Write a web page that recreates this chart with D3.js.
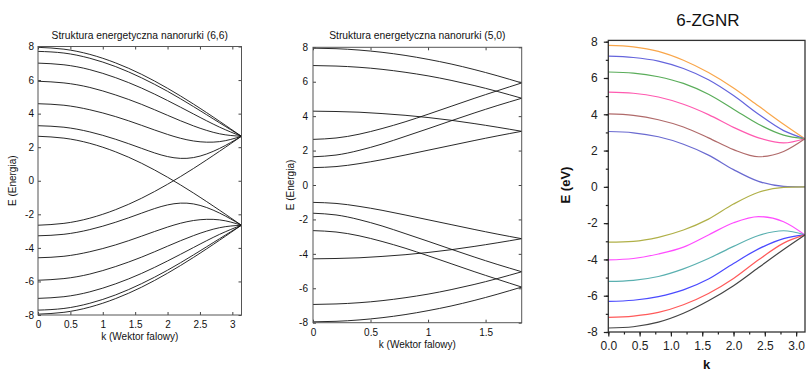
<!DOCTYPE html>
<html>
<head>
<meta charset="utf-8">
<script src="https://cdn.jsdelivr.net/npm/d3@7"></script>
<style>
  body { margin: 0; background: #fff; }
  svg { display: block; }
</style>
</head>
<body>
<div id="chart"></div>
<script>
// ---------- data ----------

// (6,6) armchair tube: wave vector samples and band energies
var kArm = [0, 0.4, 0.8, 1.2, 1.6, 2.0, 2.4, 2.8, 3.14];
var armUpper = [
  [7.95, 7.84, 7.53, 7.02, 6.34, 5.51, 4.57, 3.55, 2.65],
  [7.71, 7.61, 7.30, 6.80, 6.13, 5.33, 4.42, 3.46, 2.65],
  [7.01, 6.91, 6.62, 6.14, 5.52, 4.78, 3.98, 3.20, 2.65],
  [5.93, 5.83, 5.56, 5.11, 4.55, 3.90, 3.27, 2.80, 2.65],
  [4.59, 4.50, 4.23, 3.82, 3.30, 2.76, 2.37, 2.33, 2.65],
  [3.28, 3.19, 2.91, 2.47, 1.93, 1.44, 1.38, 1.92, 2.65],
  [2.65, 2.54, 2.23, 1.72, 1.04, 0.21, -0.73, -1.75, -2.65]
];
var armLower = [
  [-7.95, -7.84, -7.53, -7.02, -6.34, -5.51, -4.57, -3.55, -2.65],
  [-7.71, -7.61, -7.30, -6.80, -6.13, -5.33, -4.42, -3.46, -2.65],
  [-7.01, -6.91, -6.62, -6.14, -5.52, -4.78, -3.98, -3.20, -2.65],
  [-5.93, -5.83, -5.56, -5.11, -4.55, -3.90, -3.27, -2.80, -2.65],
  [-4.59, -4.50, -4.23, -3.82, -3.30, -2.76, -2.37, -2.33, -2.65],
  [-3.28, -3.19, -2.91, -2.47, -1.93, -1.44, -1.38, -1.92, -2.65],
  [-2.65, -2.54, -2.23, -1.72, -1.04, -0.21, 0.73, 1.75, 2.65]
];

// (5,0) zigzag tube
var kZig = [0, 0.2, 0.4, 0.6, 0.8, 1.0, 1.2, 1.4, 1.6, 1.814];
var zigUpper = [
  [7.95, 7.92, 7.84, 7.71, 7.53, 7.30, 7.03, 6.71, 6.35, 5.93],
  [6.94, 6.91, 6.84, 6.72, 6.55, 6.34, 6.08, 5.78, 5.44, 5.04],
  [4.29, 4.27, 4.23, 4.15, 4.05, 3.92, 3.76, 3.57, 3.36, 3.12],
  [1.01, 1.07, 1.24, 1.47, 1.74, 2.02, 2.30, 2.58, 2.85, 3.12],
  [1.64, 1.74, 2.01, 2.38, 2.82, 3.27, 3.73, 4.18, 4.61, 5.04],
  [2.65, 2.73, 2.95, 3.28, 3.67, 4.11, 4.57, 5.03, 5.47, 5.93]
];
var zigLower = [
  [-7.95, -7.92, -7.84, -7.71, -7.53, -7.30, -7.03, -6.71, -6.35, -5.93],
  [-6.94, -6.91, -6.84, -6.72, -6.55, -6.34, -6.08, -5.78, -5.44, -5.04],
  [-4.29, -4.27, -4.23, -4.15, -4.05, -3.92, -3.76, -3.57, -3.36, -3.12],
  [-1.01, -1.07, -1.24, -1.47, -1.74, -2.02, -2.30, -2.58, -2.85, -3.12],
  [-1.64, -1.74, -2.01, -2.38, -2.82, -3.27, -3.73, -4.18, -4.61, -5.04],
  [-2.65, -2.73, -2.95, -3.28, -3.67, -4.11, -4.57, -5.03, -5.47, -5.93]
];

// 6-ZGNR ribbon
var kRib = [0, 0.4, 0.8, 1.2, 1.6, 2.0, 2.4, 2.8, 3.14];
var ribUpper = [
  [7.80, 7.72, 7.47, 6.98, 6.30, 5.45, 4.45, 3.45, 2.65],
  [7.20, 7.13, 6.93, 6.52, 5.90, 5.03, 4.00, 3.10, 2.65],
  [6.33, 6.27, 6.07, 5.70, 5.10, 4.28, 3.45, 2.85, 2.65],
  [5.22, 5.16, 4.95, 4.55, 3.98, 3.28, 2.70, 2.42, 2.65],
  [4.02, 3.94, 3.70, 3.30, 2.70, 2.05, 1.66, 1.95, 2.65],
  [3.05, 2.98, 2.76, 2.35, 1.75, 0.95, 0.30, 0.03, 0.00]
];
var ribLower = [
  [-3.05, -3.00, -2.78, -2.38, -1.78, -0.95, -0.30, -0.03, 0.00],
  [-4.03, -3.95, -3.70, -3.32, -2.65, -1.98, -1.64, -1.92, -2.65],
  [-5.21, -5.15, -4.94, -4.52, -3.95, -3.28, -2.68, -2.42, -2.65],
  [-6.31, -6.25, -6.05, -5.68, -5.08, -4.22, -3.42, -2.85, -2.65],
  [-7.19, -7.12, -6.92, -6.50, -5.88, -5.05, -4.02, -3.10, -2.65],
  [-7.78, -7.71, -7.46, -6.97, -6.28, -5.45, -4.45, -3.45, -2.65]
];
var ribUpperColors = ["#f9a64a", "#6464dc", "#5aad5a", "#ff5ab0", "#b06a6a", "#6a6ad0"];
var ribLowerColors = ["#b0b048", "#ff4cff", "#5ab0b0", "#4a4aff", "#ff5a5a", "#444444"];

// ticks and labels
var energyTicks = [-8, -6, -4, -2, 0, 2, 4, 6, 8];
var armXTicks = [0, 0.5, 1, 1.5, 2, 2.5, 3];
var zigXTicks = [0, 0.5, 1, 1.5];
var ribXTicks = [0, 0.5, 1, 1.5, 2, 2.5, 3];
var armTitle = "Struktura energetyczna nanorurki (6,6)";
var zigTitle = "Struktura energetyczna nanorurki (5,0)";
var ribTitle = "6-ZGNR";

var font = "'Liberation Sans', Arial, sans-serif";

var svg = d3.select("#chart")
  .append("svg")
  .attr("width", 807)
  .attr("height", 373);

// MATLAB style panel: box with inward ticks on every side
function matlabPanel(cfg) {
  var x = d3.scaleLinear().domain([0, cfg.kMax]).range([cfg.left, cfg.right]);
  var y = d3.scaleLinear().domain([-8, 8]).range([cfg.bottom, cfg.top]);
  var g = svg.append("g");

  var line = d3.line()
    .x(function(d, i) { return x(cfg.k[i]); })
    .y(function(d) { return y(d); })
    .curve(d3.curveNatural);

  g.append("g").selectAll("path")
    .data(cfg.bands)
    .enter()
    .append("path")
    .attr("d", line)
    .attr("fill", "none")
    .attr("stroke", "#111")
    .attr("stroke-width", 0.9);

  var fmt = function(d) { return String(d); };

  g.append("g")
    .attr("transform", `translate(0, ${cfg.bottom})`)
    .call(d3.axisBottom(x).tickValues(cfg.xTicks).tickFormat(fmt)
      .tickSizeInner(-3).tickSizeOuter(0).tickPadding(6));
  g.append("g")
    .attr("transform", `translate(0, ${cfg.top})`)
    .call(d3.axisTop(x).tickValues(cfg.xTicks).tickFormat("")
      .tickSizeInner(-3).tickSizeOuter(0));
  g.append("g")
    .attr("transform", `translate(${cfg.left}, 0)`)
    .call(d3.axisLeft(y).tickValues(energyTicks).tickFormat(fmt)
      .tickSizeInner(-3).tickSizeOuter(0).tickPadding(cfg.yPad));
  g.append("g")
    .attr("transform", `translate(${cfg.right}, 0)`)
    .call(d3.axisRight(y).tickValues(energyTicks).tickFormat("")
      .tickSizeInner(-3).tickSizeOuter(0));

  g.selectAll(".domain").remove();
  g.selectAll(".tick line").attr("stroke", "#444");
  g.selectAll(".tick text")
    .attr("font-family", font)
    .attr("font-size", "10px")
    .attr("fill", "#111");

  g.append("rect")
    .attr("x", cfg.left)
    .attr("y", cfg.top)
    .attr("width", cfg.right - cfg.left)
    .attr("height", cfg.bottom - cfg.top)
    .attr("fill", "none")
    .attr("stroke", "#555")
    .attr("stroke-width", 1);

  g.append("text")
    .attr("x", (cfg.left + cfg.right) / 2)
    .attr("y", cfg.top - 8)
    .attr("text-anchor", "middle")
    .attr("font-family", font)
    .attr("font-size", "10.3px")
    .attr("fill", "#111")
    .text(cfg.title);

  g.append("text")
    .attr("x", (cfg.left + cfg.right) / 2)
    .attr("y", cfg.bottom + 25)
    .attr("text-anchor", "middle")
    .attr("font-family", font)
    .attr("font-size", "10px")
    .attr("fill", "#111")
    .text("k (Wektor falowy)");

  g.append("text")
    .attr("transform", `translate(${cfg.yLabelX}, ${(cfg.top + cfg.bottom) / 2}) rotate(-90)`)
    .attr("text-anchor", "middle")
    .attr("font-family", font)
    .attr("font-size", "10px")
    .attr("fill", "#111")
    .text("E (Energia)");
}

matlabPanel({
  k: kArm, bands: armUpper.concat(armLower), kMax: Math.PI,
  left: 38, right: 241.5, top: 46.5, bottom: 315,
  xTicks: armXTicks, yPad: 4, yLabelX: 16, title: armTitle
});

matlabPanel({
  k: kZig, bands: zigUpper.concat(zigLower), kMax: Math.PI / Math.sqrt(3),
  left: 313, right: 521.7, top: 47.3, bottom: 322.7,
  xTicks: zigXTicks, yPad: 5, yLabelX: 294, title: zigTitle
});

// Origin style panel for the ribbon
(function() {
  var left = 608.3, right = 805, top = 41.7, bottom = 332;
  var x = d3.scaleLinear().domain([0, Math.PI]).range([left, right]);
  var y = d3.scaleLinear().domain([-8, 8]).range([bottom, top]);
  var g = svg.append("g");

  var line = d3.line()
    .x(function(d, i) { return x(kRib[i]); })
    .y(function(d) { return y(d); })
    .curve(d3.curveMonotoneX);

  var bands = ribUpper.concat(ribLower);
  var colors = ribUpperColors.concat(ribLowerColors);

  g.append("g").selectAll("path")
    .data(bands)
    .enter()
    .append("path")
    .attr("d", line)
    .attr("fill", "none")
    .attr("stroke", function(d, i) { return colors[i]; })
    .attr("stroke-width", 1.2);

  // frame
  g.append("rect")
    .attr("x", left)
    .attr("y", top - 1.3)
    .attr("width", right - left)
    .attr("height", bottom - top + 1.3)
    .attr("fill", "none")
    .attr("stroke", "#333")
    .attr("stroke-width", 1.3);

  var minorX = d3.range(0, 3.01, 0.25);
  var minorY = d3.range(-8, 8.01, 1);

  g.append("g")
    .attr("transform", `translate(0, ${bottom})`)
    .call(d3.axisBottom(x).tickValues(minorX).tickFormat("").tickSizeInner(2.5).tickSizeOuter(0));
  g.append("g")
    .attr("transform", `translate(0, ${bottom})`)
    .call(d3.axisBottom(x).tickValues(ribXTicks).tickFormat(d3.format(".1f"))
      .tickSizeInner(4.5).tickSizeOuter(0).tickPadding(5));
  g.append("g")
    .attr("transform", `translate(${left}, 0)`)
    .call(d3.axisLeft(y).tickValues(minorY).tickFormat("").tickSizeInner(2.5).tickSizeOuter(0));
  g.append("g")
    .attr("transform", `translate(${left}, 0)`)
    .call(d3.axisLeft(y).tickValues(energyTicks).tickFormat(function(d) { return String(d); })
      .tickSizeInner(4.5).tickSizeOuter(0).tickPadding(6));

  g.selectAll(".domain").remove();
  g.selectAll(".tick line").attr("stroke", "#222").attr("stroke-width", 1.2);
  g.selectAll(".tick text")
    .attr("font-family", font)
    .attr("font-size", "12px")
    .attr("fill", "#222");

  g.append("text")
    .attr("x", 708)
    .attr("y", 26)
    .attr("text-anchor", "middle")
    .attr("font-family", font)
    .attr("font-size", "17px")
    .attr("fill", "#111")
    .text(ribTitle);

  g.append("text")
    .attr("x", (left + right) / 2)
    .attr("y", 369)
    .attr("text-anchor", "middle")
    .attr("font-family", font)
    .attr("font-size", "13px")
    .attr("font-weight", "bold")
    .attr("fill", "#111")
    .text("k");

  g.append("text")
    .attr("transform", `translate(570, 185) rotate(-90)`)
    .attr("text-anchor", "middle")
    .attr("font-family", font)
    .attr("font-size", "13px")
    .attr("font-weight", "bold")
    .attr("fill", "#111")
    .text("E (eV)");
})();
</script>
</body>
</html>
